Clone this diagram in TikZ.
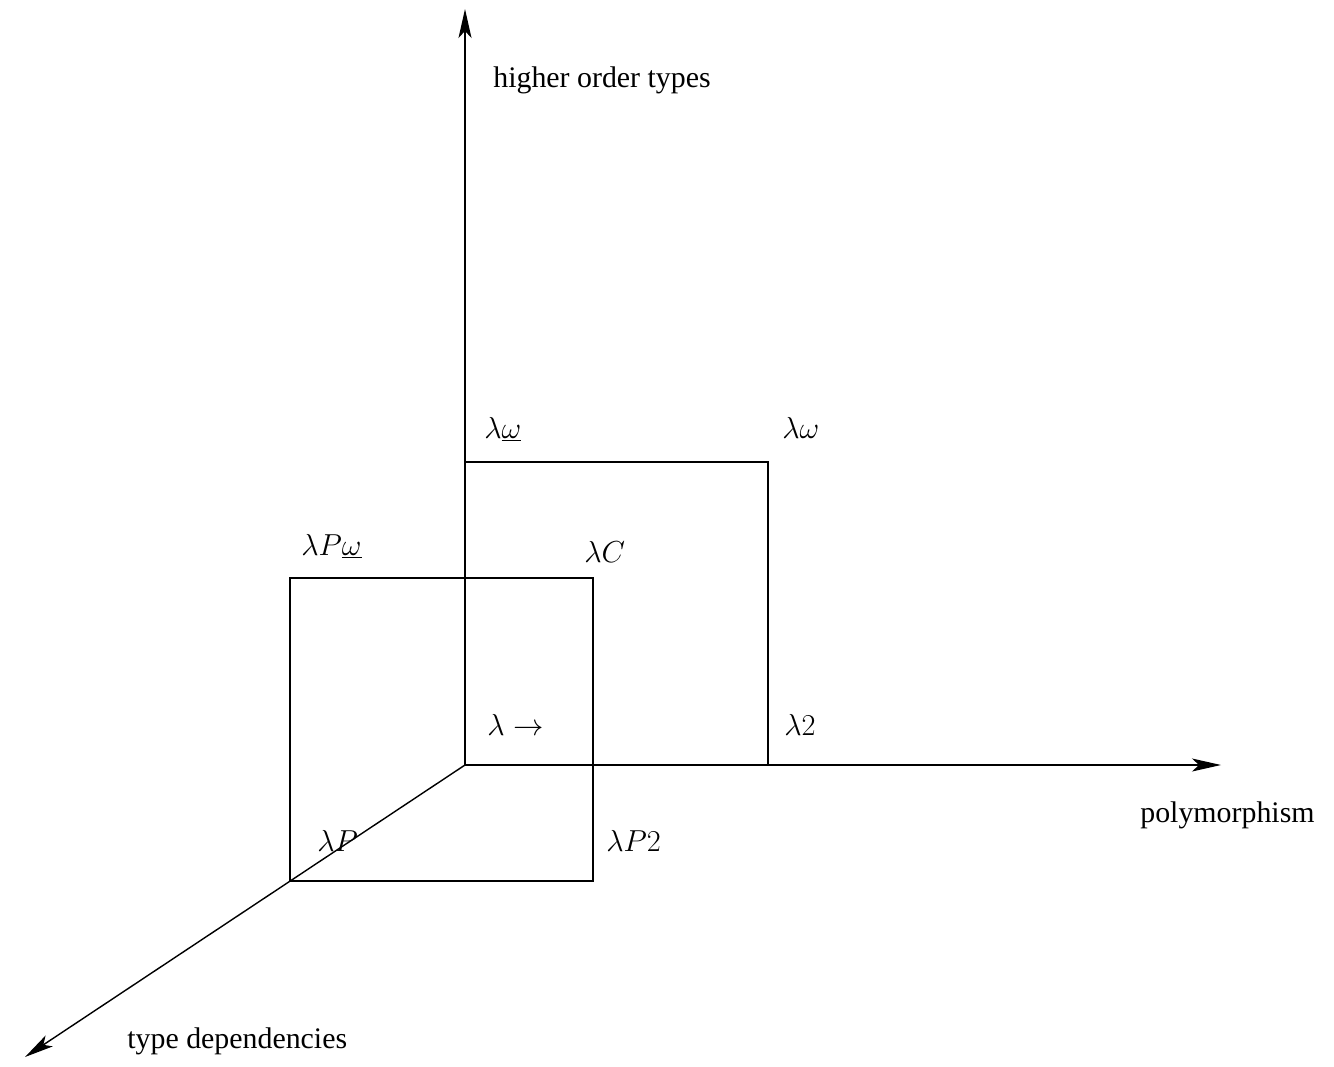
\documentclass[tikz,border=0pt]{standalone}
\usepackage{fontspec}
\setmainfont{Liberation Serif}
\usetikzlibrary{arrows.meta}
\begin{document}
\begin{tikzpicture}[x=0.02cm,y=-0.02cm,
  line/.style={line width=0.8pt},
  axis/.style={line width=0.8pt,-{Stealth[length=0.58cm,width=0.26cm,inset=0.14cm]}},
  lbl/.style={anchor=base west,inner sep=0pt,font=\fontsize{17}{20}\selectfont}]
\useasboundingbox (0,0) rectangle (1334,1067);
% corners
\coordinate (O) at (465,765);
\coordinate (B2) at (768,765);
\coordinate (Bw) at (465,462);
\coordinate (BW) at (768,462);
\coordinate (P) at (290,881);
\coordinate (P2) at (593,881);
\coordinate (Pw) at (290,578);
\coordinate (C) at (593,578);
\coordinate (up) at (465,9);
\coordinate (right) at (1221,765);
\coordinate (down) at (25,1057);
% axes
\draw[axis] (O) -- (up);
\draw[axis] (O) -- (right);
\draw[axis] (O) -- (down);
% squares
\draw[line] (Bw) -- (BW) -- (B2);
\draw[line] (P) -- (P2) -- (C) -- (Pw) -- cycle;
% labels
\node[lbl] (t1) at (493,88) {higher order types};
\node[lbl] (t2) at (1140,822) {polymorphism};
\node[lbl] (t3) at (127,1048) {type dependencies};
\node[lbl] (l1) at (484,438) {$\lambda\underline{\omega}$};
\node[lbl] (l2) at (782,438) {$\lambda\omega$};
\node[lbl] (l3) at (301,555) {$\lambda P\underline{\omega}$};
\node[lbl] (l4) at (584,562) {$\lambda C$};
\node[lbl] (l5) at (487,735) {$\lambda\rightarrow$};
\node[lbl] (l6) at (784,735) {$\lambda 2$};
\node[lbl] (l7) at (317,851) {$\lambda P$};
\node[lbl] (l8) at (606,851) {$\lambda P2$};
\end{tikzpicture}
\end{document}
